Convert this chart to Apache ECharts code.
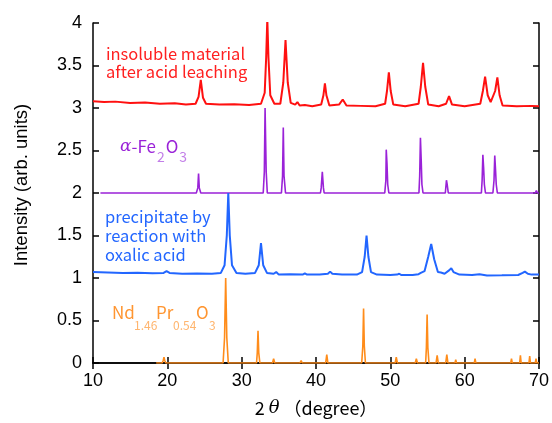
<!DOCTYPE html>
<html>
<head>
<meta charset="utf-8">
<script src="https://cdn.jsdelivr.net/npm/echarts@6/dist/echarts.min.js"></script>
<style>
  html, body { margin: 0; padding: 0; background: #fff; }
  #chart { width: 552px; height: 423px; }
</style>
</head>
<body>
<div id="chart"></div>
<script>
// 2theta / intensity pairs, each pattern offset by 1
const leachedResidue = [
  [10, 3.08], [11.5, 3.07], [13, 3.075], [15, 3.06], [17, 3.065], [19, 3.05], [21, 3.055], [22.5, 3.04],
  [23.8, 3.05], [24.2, 3.13], [24.5, 3.33], [24.8, 3.12], [25.2, 3.05], [27, 3.04], [29, 3.045], [31, 3.035],
  [32.6, 3.05], [33.1, 3.18], [33.3, 3.6], [33.45, 4.05], [33.6, 3.6], [33.85, 3.15], [34.4, 3.05],
  [35.2, 3.05], [35.6, 3.3], [35.9, 3.8], [36.2, 3.3], [36.6, 3.06], [37.2, 3.04], [37.5, 3.07], [37.8, 3.03],
  [38.5, 3.035], [39.5, 3.02], [40.7, 3.04], [41.0, 3.15], [41.2, 3.29], [41.4, 3.15], [41.8, 3.03],
  [43.1, 3.04], [43.6, 3.1], [44.1, 3.03], [46, 3.025], [48, 3.02], [49.3, 3.05], [49.55, 3.2], [49.8, 3.42],
  [50.05, 3.2], [50.4, 3.04], [52, 3.02], [53.8, 3.05], [54.1, 3.25], [54.4, 3.53], [54.7, 3.25], [55.1, 3.04],
  [56.5, 3.02], [57.5, 3.05], [57.9, 3.14], [58.3, 3.04], [60, 3.02], [62.1, 3.05], [62.45, 3.2], [62.75, 3.37],
  [63.1, 3.15], [63.5, 3.07], [64.1, 3.2], [64.4, 3.36], [64.7, 3.15], [65.1, 3.03], [67, 3.02], [69, 3.025],
  [70, 3.02]
];
const hematiteRef = [
  [11, 2], [23.9, 2], [24.1, 2.06], [24.2, 2.23], [24.3, 2.06], [24.5, 2],
  [32.9, 2], [33.05, 2.25], [33.15, 3.0], [33.3, 2.25], [33.45, 2],
  [35.35, 2], [35.5, 2.2], [35.6, 2.77], [35.7, 2.2], [35.9, 2],
  [39.2, 2], [39.3, 2.02], [39.4, 2], [40.6, 2], [40.7, 2.06], [40.85, 2.25], [41.0, 2.06], [41.1, 2],
  [43.4, 2], [43.5, 2.015], [43.6, 2],
  [49.25, 2], [49.4, 2.15], [49.45, 2.51], [49.55, 2.35], [49.65, 2.1], [49.8, 2],
  [53.85, 2], [53.95, 2.2], [54.05, 2.65], [54.15, 2.4], [54.25, 2.1], [54.4, 2],
  [57.4, 2], [57.55, 2.15], [57.65, 2.1], [57.8, 2],
  [62.25, 2], [62.35, 2.15], [62.45, 2.45], [62.55, 2.3], [62.65, 2.1], [62.8, 2],
  [63.8, 2], [63.95, 2.15], [64.05, 2.44], [64.15, 2.28], [64.25, 2.1], [64.4, 2],
  [69.5, 2], [69.65, 2.03], [69.8, 2], [70, 2]
];
const oxalatePrecip = [
  [10, 1.07], [12, 1.065], [14, 1.06], [16, 1.062], [18, 1.055], [19.5, 1.06], [19.9, 1.08], [20.3, 1.06],
  [22, 1.05], [24, 1.052], [26, 1.05], [27.2, 1.06], [27.7, 1.15], [28.0, 1.5], [28.2, 2.0], [28.4, 1.5],
  [28.7, 1.15], [29.3, 1.06], [30.5, 1.05], [31.8, 1.06], [32.3, 1.15], [32.6, 1.41], [32.9, 1.15], [33.4, 1.06],
  [34.3, 1.05], [34.65, 1.07], [35, 1.04], [36.5, 1.045], [38.2, 1.04], [38.5, 1.055], [38.8, 1.04],
  [40.5, 1.04], [41.6, 1.05], [41.9, 1.075], [42.2, 1.05], [43.5, 1.04], [45.5, 1.04], [46.2, 1.07],
  [46.55, 1.25], [46.8, 1.5], [47.05, 1.25], [47.4, 1.07], [48.2, 1.04], [50, 1.035], [50.9, 1.04],
  [51.2, 1.05], [51.5, 1.035], [53, 1.035], [53.8, 1.045], [54.1, 1.06], [54.6, 1.08], [55.1, 1.25],
  [55.5, 1.4], [55.9, 1.22], [56.4, 1.07], [56.8, 1.065], [57.3, 1.05], [57.9, 1.09], [58.2, 1.115],
  [58.5, 1.07], [59.3, 1.04], [61, 1.035], [62, 1.045], [63, 1.03], [65, 1.032], [67.2, 1.035],
  [67.8, 1.06], [68.1, 1.075], [68.5, 1.05], [69, 1.04], [70, 1.04]
];
const ndPrOxideRef = [
  [18.5, 0], [19.3, 0], [19.45, 0.03], [19.55, 0.07], [19.65, 0.03], [19.8, 0],
  [27.5, 0], [27.7, 0.3], [27.85, 1.0], [28.0, 0.3], [28.2, 0],
  [32.0, 0], [32.1, 0.12], [32.2, 0.38], [32.3, 0.12], [32.45, 0],
  [34.15, 0], [34.3, 0.05], [34.45, 0], [37.85, 0], [38.0, 0.03], [38.15, 0],
  [41.3, 0], [41.45, 0.1], [41.6, 0], [44.6, 0], [44.7, 0.02], [44.8, 0],
  [46.15, 0], [46.3, 0.2], [46.4, 0.64], [46.5, 0.2], [46.65, 0], [47.7, 0], [47.8, 0.02], [47.9, 0],
  [50.65, 0], [50.8, 0.07], [50.95, 0], [51.75, 0], [51.85, 0.015], [51.95, 0],
  [53.35, 0], [53.5, 0.05], [53.65, 0],
  [54.75, 0], [54.85, 0.18], [54.95, 0.57], [55.05, 0.18], [55.2, 0],
  [56.15, 0], [56.3, 0.09], [56.45, 0], [57.45, 0], [57.6, 0.1], [57.75, 0], [58.7, 0], [58.8, 0.04], [58.9, 0],
  [61.3, 0], [61.4, 0.05], [61.5, 0], [62.65, 0], [62.75, 0.02], [62.85, 0],
  [66.2, 0], [66.3, 0.05], [66.4, 0], [67.4, 0], [67.5, 0.09], [67.6, 0],
  [68.65, 0], [68.75, 0.08], [68.85, 0], [69.5, 0], [69.6, 0.05], [69.7, 0], [70, 0]
];

const tickFont = 'Liberation Sans';
const noteFont = '"Noto Sans CJK JP"';

let myChart = echarts.init(document.getElementById('chart'));

function lineSeries(data, color, width) {
  return {
    type: 'line',
    data: data,
    showSymbol: false,
    symbol: 'none',
    lineStyle: { color: color, width: width },
    xAxisIndex: 0,
    yAxisIndex: 0
  };
}

// one piece of the Nd/Pr formula label
function formulaPart(text, x, isSub) {
  return {
    type: 'text', x: x, y: isSub ? 325 : 313,
    style: {
      text: text,
      fill: isSub ? '#ffb56e' : '#ff9530',
      font: (isSub ? '12px ' : '17px ') + noteFont,
      verticalAlign: 'middle'
    }
  };
}

let sideAxis = {
  axisLine: { show: true, lineStyle: { color: '#000', width: 1.5 } },
  axisTick: { show: true, inside: true, length: 6, lineStyle: { color: '#000', width: 1.5 } },
  axisLabel: { show: false },
  splitLine: { show: false }
};

myChart.setOption({
  animation: false,
  grid: { left: 93, right: 12, top: 23, bottom: 60 },
  xAxis: [
    {
      type: 'value', min: 10, max: 70, interval: 10,
      name: '{n|2 }{t|θ}{n| （degree）}',
      nameLocation: 'middle',
      nameGap: 36,
      nameTextStyle: {
        rich: {
          n: { fontFamily: noteFont, fontSize: 18, color: '#000' },
          t: { fontFamily: 'DejaVu Serif', fontStyle: 'italic', fontSize: 18, color: '#000' }
        }
      },
      axisLine: { show: true, lineStyle: { color: '#000', width: 1.5 } },
      axisTick: { show: true, inside: true, length: 6, lineStyle: { color: '#000', width: 1.5 } },
      axisLabel: { fontFamily: tickFont, fontSize: 18, color: '#000', margin: 9 },
      splitLine: { show: false }
    },
    Object.assign({ type: 'value', min: 10, max: 70, interval: 10, position: 'top' }, sideAxis)
  ],
  yAxis: [
    {
      type: 'value', min: 0, max: 4, interval: 0.5,
      name: 'Intensity (arb. units)',
      nameLocation: 'middle',
      nameGap: 62,
      nameTextStyle: { fontFamily: 'Liberation Sans', fontSize: 18.5, color: '#000', padding: [0, 0, 0, 16] },
      axisLine: { show: true, lineStyle: { color: '#000', width: 1.5 } },
      axisTick: { show: true, inside: true, length: 6, lineStyle: { color: '#000', width: 1.5 } },
      axisLabel: { fontFamily: tickFont, fontSize: 18, color: '#000', margin: 11 },
      splitLine: { show: false }
    },
    Object.assign({ type: 'value', min: 0, max: 4, interval: 0.5, position: 'right' }, sideAxis)
  ],
  series: [
    lineSeries(leachedResidue, '#ff1010', 2),
    lineSeries(hematiteRef, '#9a22d8', 1.6),
    lineSeries(oxalatePrecip, '#2266ff', 2),
    lineSeries(ndPrOxideRef, '#ff8c1a', 1.6)
  ],
  graphic: [
    {
      type: 'text', x: 106, y: 45,
      style: {
        text: 'insoluble material\nafter acid leaching',
        fill: '#ff2020', font: '16.5px ' + noteFont, lineHeight: 18, verticalAlign: 'top'
      }
    },
    {
      type: 'text', x: 120, y: 138,
      style: {
        text: '{a|α}{m|-Fe}{s|2}{m|O}{s|3}',
        verticalAlign: 'top',
        rich: {
          a: { fill: '#9a22d8', fontFamily: 'DejaVu Serif', fontStyle: 'italic', fontSize: 17, lineHeight: 18, verticalAlign: 'top' },
          m: { fill: '#9a22d8', fontFamily: noteFont, fontSize: 17, lineHeight: 18, verticalAlign: 'top' },
          s: { fill: '#c27ee8', fontFamily: noteFont, fontSize: 14, lineHeight: 14, verticalAlign: 'top', padding: [12, 1, 0, 1] }
        }
      }
    },
    {
      type: 'text', x: 105, y: 207,
      style: {
        text: 'precipitate by\nreaction with\noxalic acid',
        fill: '#2266ff', font: '16.5px ' + noteFont, lineHeight: 19, verticalAlign: 'top'
      }
    },
    formulaPart('Nd', 112, false),
    formulaPart('1.46', 134, true),
    formulaPart('Pr', 156, false),
    formulaPart('0.54', 173, true),
    formulaPart('O', 196, false),
    formulaPart('3', 209, true)
  ]
});
</script>
</body>
</html>
